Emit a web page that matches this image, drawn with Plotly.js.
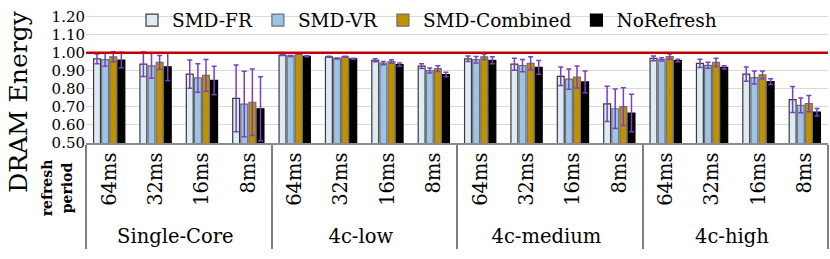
<!DOCTYPE html>
<html>
<head>
<meta charset="utf-8">
<script src="https://cdn.plot.ly/plotly-3.0.1.min.js"></script>
<style>
html,body{margin:0;padding:0;background:#fff;}
#wrap{position:relative;width:830px;height:259px;}
#chart{width:830px;height:259px;}
.rot{position:absolute;transform:translate(-50%,-50%) rotate(-90deg);white-space:nowrap;color:#000;
     font-family:'DejaVu Serif',serif;text-align:center;pointer-events:none;z-index:5;}
#ytitle{left:18px;top:102px;font-size:25px;line-height:1;}
#rp{left:57px;top:188px;font-size:14px;line-height:20px;font-weight:bold;}
</style>
</head>
<body>
<div id="wrap">
<div id="chart"></div>
<div class="rot" id="ytitle"></div>
<div class="rot" id="rp"></div>
</div>
<script>
const groups = ['Single-Core', '4c-low', '4c-medium', '4c-high'];
const periods = ['64ms', '32ms', '16ms', '8ms'];
const seriesNames = ['SMD-FR', 'SMD-VR', 'SMD-Combined', 'NoRefresh'];

const frVals   = [0.967,0.937,0.882,0.747, 0.988,0.978,0.959,0.926, 0.967,0.937,0.870,0.717, 0.969,0.942,0.882,0.741];
const vrVals   = [0.962,0.928,0.861,0.716, 0.983,0.969,0.943,0.902, 0.962,0.929,0.854,0.690, 0.964,0.931,0.863,0.709];
const combVals = [0.978,0.947,0.875,0.726, 0.995,0.978,0.952,0.912, 0.978,0.942,0.866,0.702, 0.979,0.947,0.878,0.719];
const noRefVals= [0.960,0.923,0.847,0.690, 0.981,0.967,0.935,0.880, 0.959,0.919,0.839,0.666, 0.957,0.919,0.840,0.671];

const frErr    = [0.027,0.068,0.079,0.185, 0.003,0.003,0.009,0.013, 0.015,0.033,0.051,0.098, 0.013,0.023,0.040,0.072];
const vrErr    = [0.036,0.069,0.079,0.182, 0.003,0.003,0.009,0.014, 0.018,0.034,0.056,0.109, 0.009,0.017,0.036,0.041];
const combErr  = [0.028,0.039,0.088,0.184, 0.003,0.003,0.010,0.016, 0.016,0.036,0.061,0.105, 0.015,0.023,0.022,0.045];
const noRefErr = [0.043,0.076,0.079,0.178, 0.003,0.003,0.009,0.013, 0.019,0.038,0.060,0.104, 0.007,0.009,0.016,0.021];

const baseline = 1.0;
const yTickVals = [0.5,0.6,0.7,0.8,0.9,1.0,1.1,1.2];
const yTitleText = 'DRAM Energy';
const periodLabelLines = ['refresh', 'period'];

const xGroup = [], xPeriod = [];
groups.forEach(g => periods.forEach(p => { xGroup.push(g); xPeriod.push(p); }));

const fills = ['#DEEBF7', '#9DC3E6', '#BF9000', '#000000'];
const lines = ['#3a3a3a', '#6f6f6f', '#6f6f6f', '#000000'];
const vals = [frVals, vrVals, combVals, noRefVals];
const errs = [frErr, vrErr, combErr, noRefErr];
const FONT = 'DejaVu Serif, Liberation Serif, serif';

const traces = seriesNames.map((name, i) => ({
  type: 'bar',
  name: name,
  x: [xGroup, xPeriod],
  y: vals[i],
  marker: {color: fills[i], line: {color: lines[i], width: 1.2}},
  error_y: {type: 'data', array: errs[i], visible: true, color: '#7B3FC4', thickness: 1.5, width: 2.5}
}));

const layout = {
  width: 830, height: 259,
  margin: {l: 86, r: 2, t: 5, b: 116},
  paper_bgcolor: '#ffffff', plot_bgcolor: '#ffffff',
  font: {family: FONT, color: '#000'},
  barmode: 'group', bargap: 0.3, bargroupgap: 0.15,
  showlegend: true,
  legend: {orientation: 'h', x: 0.062, y: 1.105, xanchor: 'left', yanchor: 'top',
           bgcolor: 'rgba(0,0,0,0)', font: {family: FONT, size: 18.5, color: '#000'}},
  xaxis: {type: 'multicategory', tickangle: -90, tickfont: {family: FONT, size: 19.5, color: '#000'},
          showline: true, linecolor: '#8c8c8c', linewidth: 1.5, ticks: '', showgrid: false,
          showdividers: true, dividercolor: '#7f7f7f', dividerwidth: 1.5},
  yaxis: {range: [0.5, 1.21], tickvals: yTickVals, tickformat: '.2f', showgrid: true, gridcolor: '#d9d9d9', gridwidth: 1,
          ticklabeloverflow: 'allow',
          zeroline: false, showline: false, ticks: '', tickfont: {family: FONT, size: 15, color: '#000'}},
  shapes: [{type: 'line', xref: 'paper', x0: 0, x1: 1, yref: 'y', y0: baseline, y1: baseline,
            line: {color: '#C00000', width: 2.5}}]
};

window.onerror = function () { return false; };
Plotly.newPlot('chart', traces, layout, {displayModeBar: false}).then(gd => {
  document.getElementById('ytitle').textContent = yTitleText;
  const rp = document.getElementById('rp');
  rp.textContent = '';
  periodLabelLines.forEach((t, i) => {
    if (i > 0) rp.appendChild(document.createElement('br'));
    rp.appendChild(document.createTextNode(t));
  });
}).catch(() => {});
</script>
</body>
</html>
